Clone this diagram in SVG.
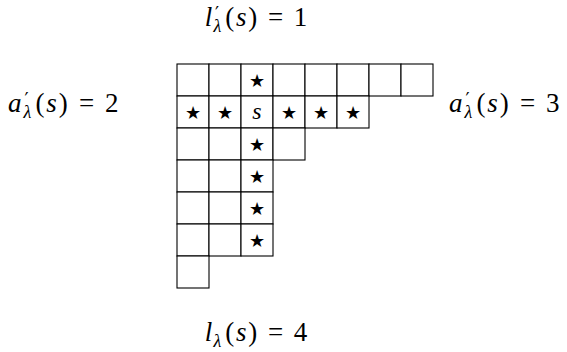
<svg xmlns="http://www.w3.org/2000/svg" width="567" height="352" viewBox="0 0 567 352">
<style>
.c{fill:#fff;stroke:#000;stroke-width:1.1}
.m{font-family:"Liberation Serif","DejaVu Serif",serif;font-size:27px;fill:#000;text-anchor:middle}
.i{font-style:italic}
.sub{font-family:"Liberation Serif","DejaVu Serif",serif;font-size:18px;font-style:italic;fill:#000}
.pr{font-family:"DejaVu Serif",serif;font-style:normal}
.st{font-family:"DejaVu Sans",sans-serif;font-size:18px;text-anchor:middle;fill:#000}
</style>
<rect width="567" height="352" fill="#fff"/>
<g id="diagram">
<g id="row1">
<rect class="c" x="177" y="64" width="32" height="32"/><rect class="c" x="209" y="64" width="32" height="32"/><rect class="c" x="241" y="64" width="32" height="32"/><rect class="c" x="273" y="64" width="32" height="32"/><rect class="c" x="305" y="64" width="32" height="32"/><rect class="c" x="337" y="64" width="32" height="32"/><rect class="c" x="369" y="64" width="32" height="32"/><rect class="c" x="401" y="64" width="32" height="32"/>
</g>
<g id="row2">
<rect class="c" x="177" y="96" width="32" height="32"/><rect class="c" x="209" y="96" width="32" height="32"/><rect class="c" x="241" y="96" width="32" height="32"/><rect class="c" x="273" y="96" width="32" height="32"/><rect class="c" x="305" y="96" width="32" height="32"/><rect class="c" x="337" y="96" width="32" height="32"/>
</g>
<g id="row3">
<rect class="c" x="177" y="128" width="32" height="32"/><rect class="c" x="209" y="128" width="32" height="32"/><rect class="c" x="241" y="128" width="32" height="32"/><rect class="c" x="273" y="128" width="32" height="32"/>
</g>
<g id="row4">
<rect class="c" x="177" y="160" width="32" height="32"/><rect class="c" x="209" y="160" width="32" height="32"/><rect class="c" x="241" y="160" width="32" height="32"/>
</g>
<g id="row5">
<rect class="c" x="177" y="192" width="32" height="32"/><rect class="c" x="209" y="192" width="32" height="32"/><rect class="c" x="241" y="192" width="32" height="32"/>
</g>
<g id="row6">
<rect class="c" x="177" y="224" width="32" height="32"/><rect class="c" x="209" y="224" width="32" height="32"/><rect class="c" x="241" y="224" width="32" height="32"/>
</g>
<g id="row7">
<rect class="c" x="177" y="256" width="32" height="32"/>
</g>
<g id="marks">
<text class="st" x="257" y="86.5">★</text>
<text class="st" x="193" y="118.5">★</text>
<text class="st" x="225" y="118.5">★</text>
<text class="m i" x="257" y="119" style="font-size:24px">s</text>
<text class="st" x="289" y="118.5">★</text>
<text class="st" x="321" y="118.5">★</text>
<text class="st" x="353" y="118.5">★</text>
<text class="st" x="257" y="150.5">★</text>
<text class="st" x="257" y="182.5">★</text>
<text class="st" x="257" y="214.5">★</text>
<text class="st" x="257" y="246.5">★</text>
</g>
</g>
<g id="labels">
<g id="label-top">
<text class="m i" x="208.5" y="26">l</text>
<text class="sub"><tspan class="pr" x="215" y="20">′</tspan><tspan x="213.5" y="32">λ</tspan></text>
<text class="m" x="229.8" y="26">(</text>
<text class="m i" x="241.2" y="26">s</text>
<text class="m" x="252.7" y="26">)</text>
<text class="m" x="275.7" y="26">=</text>
<text class="m" x="300.5" y="26">1</text>
</g>
<g id="label-left">
<text class="m i" x="14.7" y="112">a</text>
<text class="sub"><tspan class="pr" x="24.5" y="106">′</tspan><tspan x="23.5" y="118">λ</tspan></text>
<text class="m" x="39.9" y="112">(</text>
<text class="m i" x="51.4" y="112">s</text>
<text class="m" x="63.2" y="112">)</text>
<text class="m" x="86.6" y="112">=</text>
<text class="m" x="111.8" y="112">2</text>
</g>
<g id="label-right">
<text class="m i" x="455.7" y="112">a</text>
<text class="sub"><tspan class="pr" x="465.5" y="106">′</tspan><tspan x="464.5" y="118">λ</tspan></text>
<text class="m" x="480.9" y="112">(</text>
<text class="m i" x="492.4" y="112">s</text>
<text class="m" x="504.2" y="112">)</text>
<text class="m" x="527.6" y="112">=</text>
<text class="m" x="552.8" y="112">3</text>
</g>
<g id="label-bottom">
<text class="m i" x="208.5" y="341">l</text>
<text class="sub" x="213.5" y="347">λ</text>
<text class="m" x="229.8" y="341">(</text>
<text class="m i" x="241.2" y="341">s</text>
<text class="m" x="252.7" y="341">)</text>
<text class="m" x="275.7" y="341">=</text>
<text class="m" x="300.5" y="341">4</text>
</g>
</g>
</svg>
